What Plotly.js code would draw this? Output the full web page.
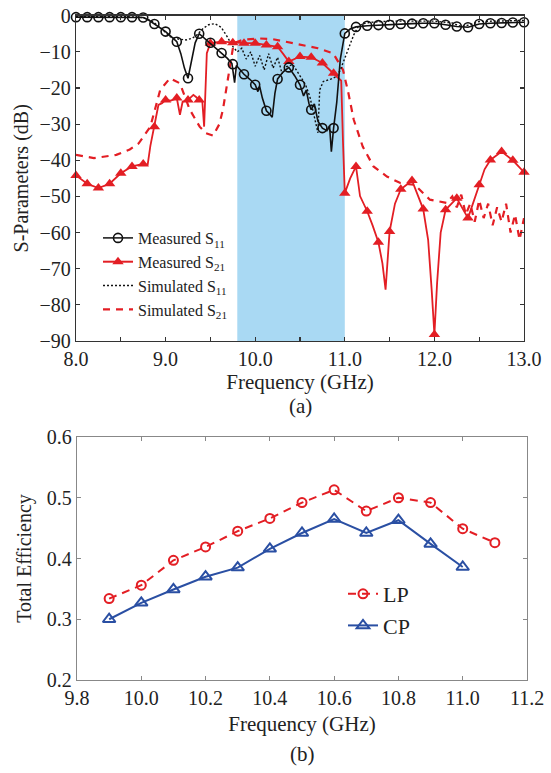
<!DOCTYPE html>
<html>
<head>
<meta charset="utf-8">
<script src="https://cdn.plot.ly/plotly-3.0.1.min.js"></script>
<style>html,body{margin:0;padding:0;background:#fff;}#chart{width:551px;height:773px;}</style>
</head>
<body>
<div id="chart"></div>
<script>
// ---------- (a) S-parameters ----------
const passband = [9.8, 11.0];

// Measured S11 – full trace
const measS11Freq = [8.0,8.125,8.25,8.375,8.5,8.625,8.75,8.81,8.875,8.94,9.0,9.06,9.125,9.17,9.21,9.25,9.29,9.33,9.375,9.44,9.5,9.56,9.625,9.69,9.74,9.77,9.79,9.83,9.875,9.94,10.0,10.03,10.05,10.08,10.125,10.16,10.19,10.22,10.25,10.31,10.375,10.44,10.5,10.54,10.57,10.6,10.625,10.66,10.7,10.75,10.8,10.83,10.85,10.875,10.91,10.95,11.0,11.06,11.125,11.25,11.375,11.5,11.625,11.75,11.875,12.0,12.125,12.25,12.375,12.5,12.625,12.75,12.875,13.0];
const measS11Db   = [-0.4,-0.4,-0.4,-0.4,-0.4,-0.4,-0.5,-1.2,-2.3,-3.3,-4.4,-5.7,-7.2,-10.5,-14.5,-17.3,-12.5,-7.5,-5.0,-6.4,-7.5,-8.9,-10.3,-11.8,-13.2,-18.5,-13.8,-15.0,-16.2,-17.6,-19.1,-21.0,-19.6,-22.8,-26.3,-27.2,-28.1,-21.5,-17.5,-15.6,-14.3,-16.6,-19.1,-22.2,-20.6,-24.3,-26.0,-24.4,-29.2,-31.1,-31.8,-30.5,-37.6,-31.1,-24.0,-12.0,-4.9,-3.7,-3.1,-2.8,-2.6,-2.5,-2.3,-2.2,-2.1,-2.1,-2.5,-3.0,-3.2,-2.3,-2.1,-2.0,-1.9,-1.8];
// Measured S11 – marker samples
const measS11MarkFreq = [8.0,8.125,8.25,8.375,8.5,8.625,8.75,8.875,9.0,9.125,9.25,9.375,9.5,9.625,9.75,9.875,10.0,10.125,10.25,10.375,10.5,10.625,10.75,10.875,11.0,11.125,11.25,11.375,11.5,11.625,11.75,11.875,12.0,12.125,12.25,12.375,12.5,12.625,12.75,12.875,13.0];
const measS11MarkDb   = [-0.4,-0.4,-0.4,-0.4,-0.4,-0.4,-0.5,-2.3,-4.4,-7.2,-17.3,-5.0,-7.5,-10.3,-13.4,-16.2,-19.1,-26.3,-17.5,-14.3,-19.1,-26.0,-31.1,-31.1,-4.9,-3.1,-2.8,-2.6,-2.5,-2.3,-2.2,-2.1,-2.1,-2.5,-3.0,-3.2,-2.3,-2.1,-2.0,-1.9,-1.8];

// Measured S21 – full trace
const measS21Freq = [8.0,8.125,8.25,8.375,8.5,8.625,8.75,8.8,8.83,8.875,8.92,8.96,9.0,9.06,9.125,9.16,9.19,9.25,9.31,9.34,9.375,9.41,9.43,9.46,9.5,9.625,9.75,9.875,10.0,10.125,10.25,10.31,10.375,10.5,10.625,10.75,10.875,10.96,10.98,11.0,11.06,11.125,11.17,11.25,11.31,11.375,11.42,11.455,11.5,11.56,11.625,11.75,11.875,11.93,11.97,12.0,12.03,12.07,12.125,12.25,12.375,12.5,12.56,12.625,12.75,12.875,13.0];
const measS21Db   = [-44.2,-46.5,-47.7,-46.5,-43.6,-41.7,-41.0,-41.2,-36.0,-30.7,-24.7,-24.2,-23.3,-23.5,-22.8,-27.4,-23.8,-23.3,-21.9,-22.5,-23.3,-23.8,-30.7,-10.4,-7.6,-7.2,-7.5,-7.6,-7.6,-8.1,-8.6,-10.5,-12.7,-11.3,-11.5,-13.1,-15.9,-18.0,-35.0,-49.1,-45.0,-41.7,-49.9,-54.1,-58.0,-62.7,-68.5,-75.8,-59.7,-52.0,-48.0,-45.6,-53.5,-62.0,-76.0,-88.2,-74.0,-60.0,-53.7,-50.5,-56.0,-46.8,-42.5,-39.9,-37.6,-40.0,-43.3];
// Measured S21 – marker samples
const measS21MarkFreq = [8.0,8.125,8.25,8.375,8.5,8.625,8.75,8.875,9.0,9.125,9.25,9.375,9.5,9.625,9.75,9.875,10.0,10.125,10.25,10.375,10.5,10.625,10.75,10.875,11.0,11.125,11.25,11.375,11.5,11.625,11.75,11.875,12.0,12.125,12.25,12.375,12.5,12.625,12.75,12.875,13.0];
const measS21MarkDb   = [-44.2,-46.5,-47.7,-46.5,-43.6,-41.7,-41.0,-30.7,-23.3,-22.8,-23.3,-23.3,-7.6,-7.2,-7.5,-7.6,-7.6,-8.1,-8.6,-12.7,-11.3,-11.5,-13.1,-15.9,-49.1,-41.7,-54.1,-62.7,-59.7,-48.0,-45.6,-53.5,-88.2,-53.7,-50.5,-56.0,-46.8,-39.9,-37.6,-40.0,-43.3];

// Simulated S11
const simS11Freq = [8.0,8.5,8.75,8.85,8.95,9.05,9.15,9.23,9.3,9.35,9.42,9.48,9.55,9.62,9.68,9.75,9.8,9.85,9.9,9.95,10.0,10.05,10.1,10.15,10.2,10.25,10.3,10.35,10.42,10.5,10.56,10.61,10.67,10.7,10.72,10.76,10.85,10.91,10.95,11.02,11.1,11.15,11.2,11.3,11.5,12.0,12.2,12.3,12.4,12.5,13.0];
const simS11Db   = [-0.2,-0.2,-0.5,-1.5,-3.5,-5.8,-6.5,-6.7,-6.2,-5.3,-3.5,-2.5,-2.2,-3.2,-5.5,-8.5,-10.0,-9.0,-12.0,-10.0,-14.0,-11.0,-15.0,-10.5,-14.5,-11.5,-16.0,-14.1,-13.5,-16.8,-19.0,-22.4,-28.8,-32.4,-20.5,-18.2,-17.5,-16.8,-15.0,-10.4,-5.3,-3.0,-2.2,-1.8,-1.5,-1.5,-2.0,-3.0,-2.5,-1.6,-1.3];

// Simulated S21
const simS21Freq = [8.0,8.2,8.45,8.6,8.7,8.83,8.94,9.05,9.16,9.27,9.38,9.45,9.53,9.6,9.64,9.72,9.76,9.87,10.05,10.2,10.35,10.5,10.7,10.87,10.98,11.04,11.1,11.2,11.32,11.47,11.62,11.78,11.95,12.14,12.2,12.25,12.3,12.35,12.4,12.45,12.5,12.55,12.6,12.65,12.7,12.75,12.8,12.85,12.9,12.95,13.0];
const simS21Db   = [-38.5,-39.4,-38.5,-37.0,-35.3,-30.7,-20.5,-17.3,-18.7,-26.0,-30.7,-32.5,-33.2,-30.0,-26.0,-14.1,-7.6,-6.6,-6.3,-6.5,-7.2,-8.1,-9.0,-10.4,-15.0,-21.4,-28.8,-36.2,-41.7,-44.5,-46.3,-46.8,-50.9,-51.8,-50.0,-53.0,-49.5,-55.0,-52.0,-57.0,-51.0,-56.0,-52.0,-58.0,-53.0,-57.0,-52.0,-60.0,-55.0,-62.0,-56.0];

// ---------- (b) Total efficiency ----------
const lpFreq = [9.9,10.0,10.1,10.2,10.3,10.4,10.5,10.6,10.7,10.8,10.9,11.0,11.1];
const lpEff  = [0.334,0.356,0.397,0.419,0.445,0.466,0.492,0.513,0.478,0.500,0.492,0.449,0.426];
const cpFreq = [9.9,10.0,10.1,10.2,10.3,10.4,10.5,10.6,10.7,10.8,10.9,11.0];
const cpEff  = [0.300,0.327,0.349,0.370,0.385,0.416,0.442,0.465,0.442,0.463,0.424,0.386];

const RED = '#e31e24', BLACK = '#111111', BLUE = '#2a4fa3';
const FONT = 'Liberation Serif, Times New Roman, serif';

const data = [
  // legend entries (no data) for the measured series: line + marker sample
  {x:[null], y:[null], mode:'lines+markers', name:'Measured S<sub>11</sub>', legendrank:1,
   line:{color:BLACK, width:1.5}, marker:{symbol:'circle-open', size:9, color:BLACK, line:{width:1.6}}, xaxis:'x', yaxis:'y'},
  {x:[null], y:[null], mode:'lines+markers', name:'Measured S<sub>21</sub>', legendrank:2,
   line:{color:RED, width:2}, marker:{symbol:'triangle-up', size:10, color:RED}, xaxis:'x', yaxis:'y'},
  // simulated S21
  {x:simS21Freq, y:simS21Db, mode:'lines', name:'Simulated S<sub>21</sub>', legendrank:4,
   line:{color:RED, width:2.2, dash:'7px,6px'}, xaxis:'x', yaxis:'y'},
  // simulated S11
  {x:simS11Freq, y:simS11Db, mode:'lines', name:'Simulated S<sub>11</sub>', legendrank:3,
   line:{color:BLACK, width:1.4, dash:'2px,2px'}, xaxis:'x', yaxis:'y'},
  // measured S21
  {x:measS21Freq, y:measS21Db, mode:'lines', showlegend:false, hoverinfo:'skip',
   line:{color:RED, width:1.8}, xaxis:'x', yaxis:'y'},
  {x:measS21MarkFreq, y:measS21MarkDb, mode:'markers', showlegend:false, cliponaxis:false,
   marker:{symbol:'triangle-up', size:10, color:RED}, xaxis:'x', yaxis:'y'},
  // measured S11
  {x:measS11Freq, y:measS11Db, mode:'lines', showlegend:false, hoverinfo:'skip',
   line:{color:BLACK, width:1.6}, xaxis:'x', yaxis:'y'},
  {x:measS11MarkFreq, y:measS11MarkDb, mode:'markers', showlegend:false, cliponaxis:false,
   marker:{symbol:'circle-open', size:9, color:BLACK, line:{width:1.6}}, xaxis:'x', yaxis:'y'},
  // efficiency
  {x:lpFreq, y:lpEff, mode:'lines+markers', name:'LP', legend:'legend2', legendgroup:'lp',
   line:{color:RED, width:2, dash:'8px,6px'}, marker:{symbol:'circle-open', size:9, color:RED, line:{width:2}},
   xaxis:'x2', yaxis:'y2', cliponaxis:false},
  {x:cpFreq, y:cpEff, mode:'lines+markers', name:'CP', legend:'legend2', legendgroup:'cp',
   line:{color:BLUE, width:2}, marker:{symbol:'triangle-up-open', size:11, color:BLUE, line:{width:2}},
   xaxis:'x2', yaxis:'y2', cliponaxis:false}
];

const axTop = {
  showgrid:false, zeroline:false, showline:true, mirror:'ticks', linecolor:'#333', linewidth:1.3,
  ticks:'inside', ticklen:4, tickcolor:'#333', tickwidth:1.2,
  tickfont:{family:FONT, size:20, color:'#222'}, automargin:false
};
const axBot = {
  showgrid:false, zeroline:false, showline:true, mirror:'ticks', linecolor:'#888', linewidth:1.3,
  ticks:'inside', ticklen:4, tickcolor:'#888', tickwidth:1.2,
  tickfont:{family:FONT, size:20, color:'#222'}, automargin:false
};

const layout = {
  width:551, height:773,
  margin:{l:0, r:0, t:0, b:0},
  paper_bgcolor:'#fff', plot_bgcolor:'#fff',
  font:{family:FONT, color:'#222'},
  showlegend:true,
  xaxis: Object.assign({}, axTop, {
    domain:[76/551, 524/551], anchor:'y', range:[8, 13], tick0:8, dtick:1, tickformat:'.1f',
    minor:{dtick:0.5, ticks:'inside', ticklen:4, tickcolor:'#333', tickwidth:1.2, showgrid:false},
    title:{text:'Frequency (GHz)', font:{family:FONT, size:21, color:'#222'}, standoff:5}
  }),
  yaxis: Object.assign({}, axTop, {
    domain:[1-341/773, 1-15.7/773], anchor:'x', range:[-90, 0], tick0:0, dtick:10,
    title:{text:'S-Parameters (dB)', font:{family:FONT, size:20, color:'#222'}, standoff:5}
  }),
  xaxis2: Object.assign({}, axBot, {
    domain:[77/551, 527/551], anchor:'y2', range:[9.8, 11.2], tick0:9.8, dtick:0.2, tickformat:'.1f',
    title:{text:'Frequency (GHz)', font:{family:FONT, size:21, color:'#222'}, standoff:8}
  }),
  yaxis2: Object.assign({}, axBot, {
    domain:[1-680/773, 1-437/773], anchor:'x2', range:[0.2, 0.6], tick0:0.2, dtick:0.1, tickformat:'.1f',
    title:{text:'Total Efficiency', font:{family:FONT, size:20, color:'#222'}, standoff:9}
  }),
  shapes:[{type:'rect', xref:'x', yref:'y domain', x0:passband[0], x1:passband[1], y0:0, y1:1,
           fillcolor:'#a9d9f3', line:{width:0}, layer:'below'}],
  legend:{x:98/551, y:1-221/773, xanchor:'left', yanchor:'top', bgcolor:'rgba(0,0,0,0)',
          font:{family:FONT, size:16, color:'#222'}, itemwidth:30, traceorder:'normal'},
  legend2:{x:343/551, y:1-573/773, xanchor:'left', yanchor:'top', bgcolor:'rgba(0,0,0,0)',
          font:{family:FONT, size:22, color:'#222'}, itemwidth:30, tracegroupgap:0},
  annotations:[
    {text:'(a)', xref:'paper', yref:'paper', x:300/551, y:1-406/773, showarrow:false,
     font:{family:FONT, size:21, color:'#222'}, xanchor:'center', yanchor:'middle'},
    {text:'(b)', xref:'paper', yref:'paper', x:302/551, y:1-754/773, showarrow:false,
     font:{family:FONT, size:21, color:'#222'}, xanchor:'center', yanchor:'middle'}
  ]
};

Plotly.newPlot('chart', data, layout, {displayModeBar:false, staticPlot:true});
</script>
</body>
</html>
